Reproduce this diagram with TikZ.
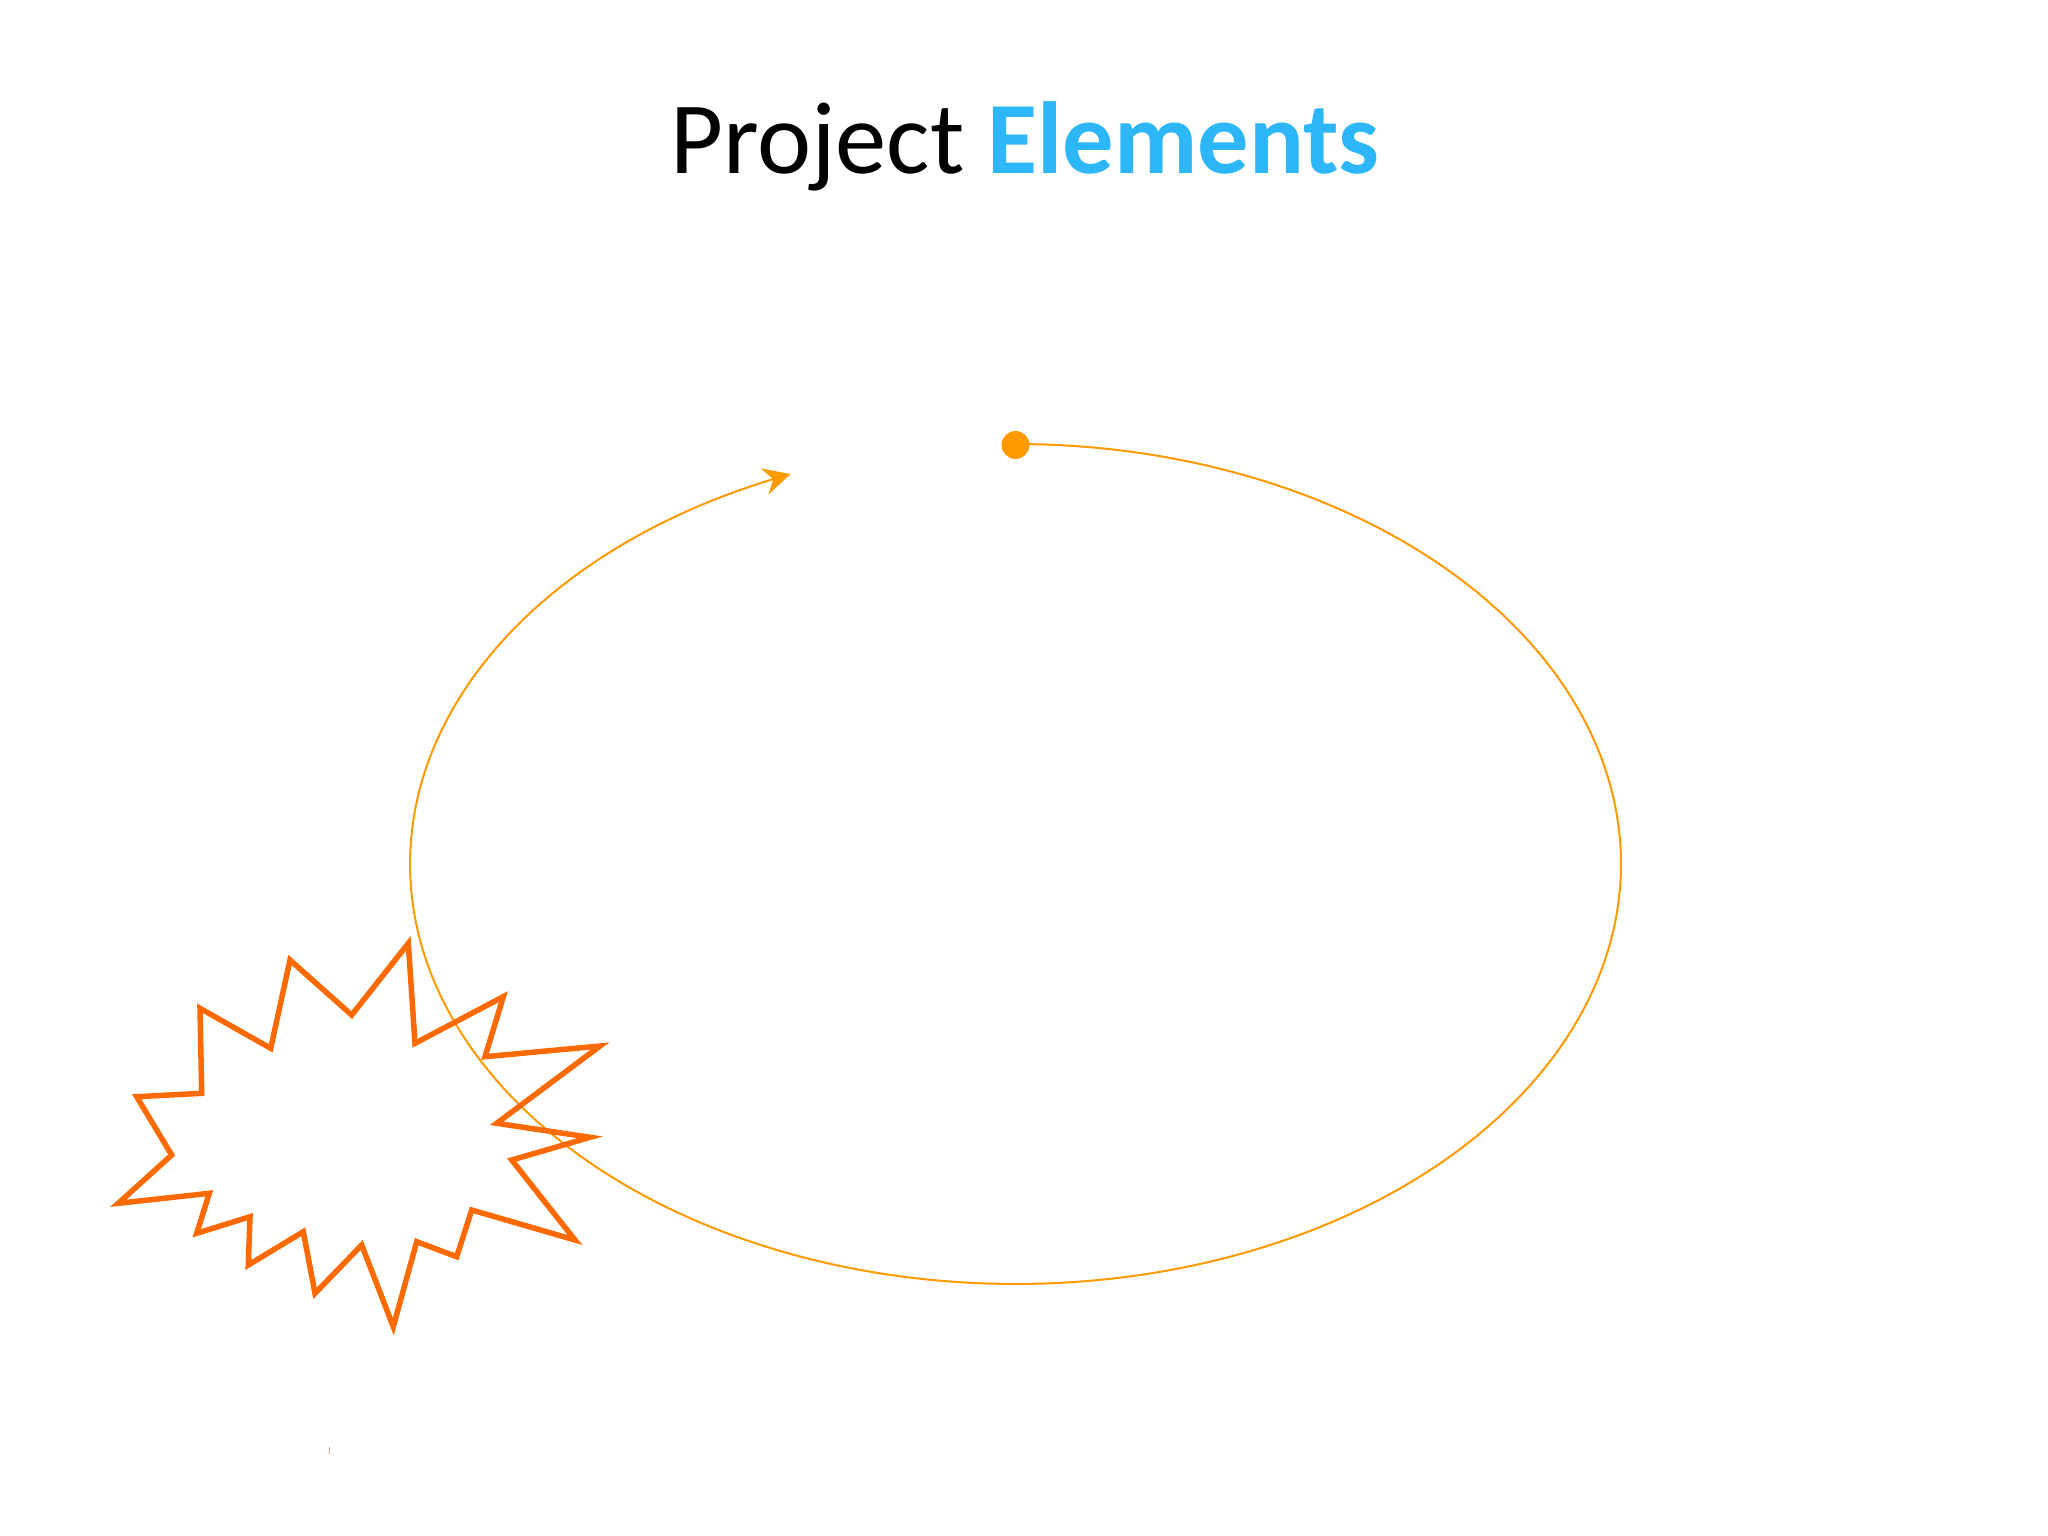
\documentclass[tikz,border=0pt]{standalone}
\usepackage{fontspec}
\setmainfont{Carlito}
\usetikzlibrary{arrows.meta}
\definecolor{ellorange}{RGB}{255,153,0}
\definecolor{burstorange}{RGB}{255,106,0}
\definecolor{titleblue}{RGB}{45,182,248}
\definecolor{tickcol}{RGB}{225,160,130}
\begin{document}
\begin{tikzpicture}[x=1pt,y=-1pt,
  orbit/.style={draw=ellorange,line width=2pt},
  burst/.style={draw=burstorange,line width=5.5pt,line join=miter,miter limit=20},
  dotstyle/.style={circle,fill=ellorange,minimum size=28pt,inner sep=0pt}]
\useasboundingbox[fill=white] (0,0) rectangle (2048,1536);
% title
\node[anchor=base,inner sep=0pt,font=\fontsize{102.5}{123}\selectfont] (title) at (1025,174)
  {Project \textbf{\textcolor{titleblue}{Elements}}};
% orbit
\node[dotstyle] (dot) at (1015.5,445) {};
\draw[orbit,-{Stealth[length=27pt,width=27pt,inset=9pt]}]
  plot[domain=0:338.2,samples=240,variable=\t]
  ({1015.5+605.5*cos(90-\t)},{864-420*sin(90-\t)});
% starburst
\draw[burst] (408.3,943.3) -- (415,1043.3) -- (503.3,996.7) -- (485,1056.7)
  -- (600,1046) -- (496.7,1123.3) -- (590,1137.3) -- (511.7,1160)
  -- (575,1240) -- (471.7,1210) -- (456.7,1256.7) -- (416.7,1241.7)
  -- (393.3,1326.7) -- (361.7,1245) -- (315,1293.3) -- (303.3,1231.7)
  -- (248.3,1265) -- (250,1216.7) -- (196.7,1233.3) -- (209.3,1193.3)
  -- (118.3,1203.3) -- (171.7,1155) -- (136.7,1096.7) -- (201.7,1093.3)
  -- (200,1008.3) -- (270.7,1048.3) -- (290,960) -- (351.7,1015) -- cycle;
% tiny tick
\coordinate (tickA) at (329.3,1446.5);
\coordinate (tickB) at (329.3,1453.5);
\draw[tickcol,line width=1pt] (tickA) -- (tickB);
\end{tikzpicture}
\end{document}
